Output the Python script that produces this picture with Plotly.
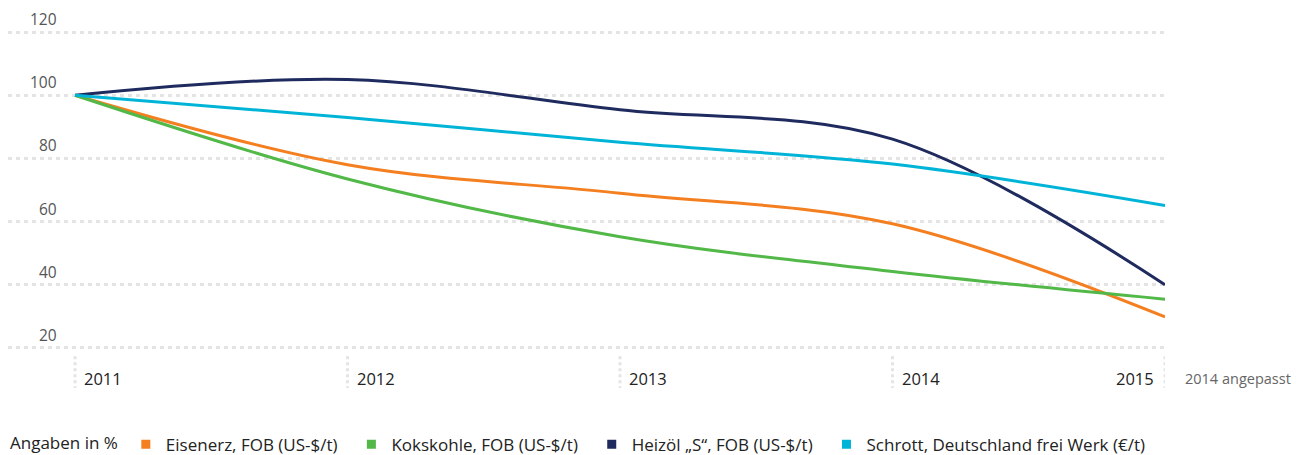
import plotly.graph_objects as go

# Jahre und Indexwerte (2011 = 100)
years = [2011, 2012, 2013, 2014, 2015]
eisenerz = [100, 78, 69, 59.3, 29.8]
kokskohle = [100, 73.5, 55.2, 44.2, 35.4]
heizoel = [100, 105, 95.4, 86.1, 40]
schrott = [100, 93, 85.1, 78.2, 65.1]

series_names = ["Eisenerz, FOB (US-$/t)", "Kokskohle, FOB (US-$/t)",
                "Heizöl „S“, FOB (US-$/t)", "Schrott, Deutschland frei Werk (€/t)"]
series_values = [eisenerz, kokskohle, heizoel, schrott]
colors = ["#f47f20", "#52b848", "#1f2b5e", "#00b4d8"]
y_ticks = [20, 40, 60, 80, 100, 120]

FONT = "Open Sans"
GRID = "#e4e4e4"
PAD = "\u00a0\u00a0"  # a little extra room between legend entries

fig = go.Figure()

# lines (no legend)
for name, vals, c in zip(series_names, series_values, colors):
    fig.add_trace(go.Scatter(x=years, y=vals, mode="lines", name=name,
                             line=dict(color=c, width=3, shape="spline", smoothing=1),
                             showlegend=False, hoverinfo="skip"))

# square markers for the legend
for name, c in zip(series_names, colors):
    fig.add_trace(go.Scatter(x=[None], y=[None], mode="markers", name=name + PAD,
                             marker=dict(symbol="square", size=9, color=c)))

# y labels sit above their gridline (the axis would hide the top one)
for v in y_ticks:
    fig.add_annotation(x=0.044, y=v, xref="paper", yref="y", text=str(v), showarrow=False,
                       xanchor="right", yanchor="middle", yshift=13,
                       font=dict(family=FONT, size=15.5, color="#555555"))

# dotted tick marks below the plot
for yr in years:
    fig.add_shape(type="line", xref="x", yref="paper", x0=yr, x1=yr, y0=-0.016, y1=-0.115,
                  line=dict(color=GRID, width=3, dash="3px,3px"), layer="below")

# year labels
for i, yr in enumerate(years):
    last = i == len(years) - 1
    fig.add_annotation(x=yr, y=0, xref="x", yref="paper", text=str(yr), showarrow=False,
                       xanchor="right" if last else "left", yanchor="middle",
                       xshift=-9 if last else 7, yshift=-27,
                       font=dict(family=FONT, size=16.5, color="#222222"))

fig.add_annotation(x=1, y=0, xref="paper", yref="paper", text="2014 angepasst", showarrow=False,
                   xanchor="left", yanchor="middle", xshift=18, yshift=-27,
                   font=dict(family=FONT, size=14.5, color="#666666"))

# page body has an 8px margin, so the figure is 8px smaller than the window
fig.update_layout(
    width=1296, height=447,
    margin=dict(l=0, r=139, t=21, b=104, autoexpand=False),
    plot_bgcolor="white", paper_bgcolor="white",
    font=dict(family=FONT, size=15, color="#333333"),
    xaxis=dict(range=[2010.754, 2015], showgrid=False, showticklabels=False,
               zeroline=False, showline=False, ticks="", automargin=False),
    yaxis=dict(range=[19, 121], tickvals=y_ticks, showgrid=True, gridcolor=GRID,
               gridwidth=3, griddash="4px,4px", zeroline=False, showline=False,
               showticklabels=False, ticks="", automargin=False),
    legend=dict(orientation="h", x=0, y=-0.235, xanchor="left", yanchor="top",
                title=dict(text="Angaben in %", side="left",
                           font=dict(family=FONT, size=17, color="#222222")),
                font=dict(family=FONT, size=17, color="#222222"),
                itemwidth=30, tracegroupgap=0),
)

fig.write_html("out.html")
